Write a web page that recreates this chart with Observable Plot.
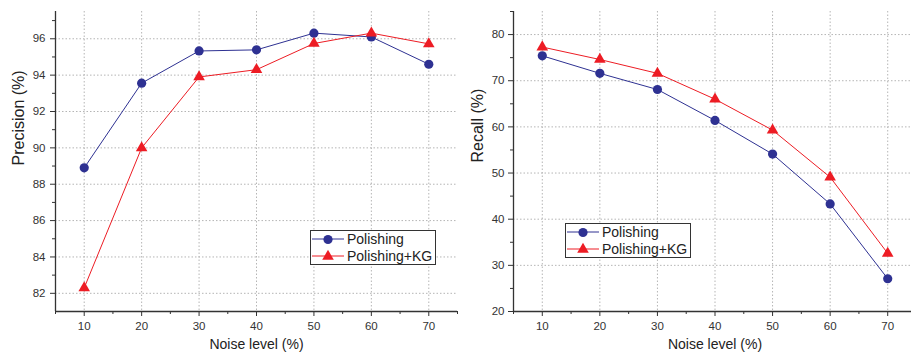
<!DOCTYPE html>
<html><head><meta charset="utf-8">
<script src="https://cdn.jsdelivr.net/npm/d3@7"></script>
<script src="https://cdn.jsdelivr.net/npm/@observablehq/plot@0.6"></script>
<style>
body{margin:0;background:#fff;}
#wrap{position:relative;width:911px;height:356px;overflow:hidden;font-family:"Liberation Sans",Arial,sans-serif;}
.panel{position:absolute;top:0;width:460px;height:356px;}
.panel svg{max-width:none !important;}
.legend{position:absolute;border:1px solid #333;background:#fff;box-sizing:border-box;font-size:14px;color:#222;}
.legend .row{display:flex;align-items:center;height:16.5px;}
.legend svg{display:block;flex:none;}
</style>
</head><body>
<div id="wrap"></div>
<script>
const noise = [10, 20, 30, 40, 50, 60, 70];
const seriesNames = ["Polishing", "Polishing+KG"];
const precisionPolishing = [88.9, 93.56, 95.33, 95.39, 96.31, 96.1, 94.6];
const precisionPolishingKG = [82.3, 90.0, 93.9, 94.3, 95.74, 96.31, 95.72];
const recallPolishing = [75.4, 71.6, 68.1, 61.4, 54.1, 43.3, 27.1];
const recallPolishingKG = [77.3, 74.6, 71.6, 66.0, 59.3, 49.1, 32.6];
const xTicks = [10, 20, 30, 40, 50, 60, 70];
const xMinorTicks = [5, 15, 25, 35, 45, 55, 65, 75];
const precisionTicks = [82, 84, 86, 88, 90, 92, 94, 96];
const precisionMinorTicks = [83, 85, 87, 89, 91, 93, 95, 97];
const recallTicks = [20, 30, 40, 50, 60, 70, 80];
const recallMinorTicks = [25, 35, 45, 55, 65, 75, 85];

const colors = {"Polishing": "#2e3192", "Polishing+KG": "#ed1c24"};
const symbols = {"Polishing": "circle", "Polishing+KG": "triangle"};

function rows(a, b) {
  return noise.flatMap((n, i) => [
    {noise: n, value: a[i], series: seriesNames[0]},
    {noise: n, value: b[i], series: seriesNames[1]}
  ]);
}

function panel({data, yDomain, yTicks, yMinor, yLabel, width, left, marginLeft, marginRight, tickPadding, labelDx, labelDy, legend}) {
  const grid = {stroke: "#b5b5b5", strokeOpacity: 1, strokeDasharray: "1.5,2"};
  const chart = Plot.plot({
    width, height: 356,
    marginTop: 11, marginBottom: 45, marginLeft, marginRight,
    style: {fontFamily: "'Liberation Sans', Arial, sans-serif", fontSize: "11px", color: "#333", background: "transparent", maxWidth: "none"},
    x: {domain: [5, 75], axis: null},
    y: {domain: yDomain, axis: null},
    marks: [
      Plot.gridX(xTicks, grid),
      Plot.gridY(yTicks, grid),
      Plot.axisX(xTicks, {tickSize: 5, tickPadding: 5, stroke: "#333", fill: "#333", fontSize: 11.5, label: null}),
      Plot.axisX(xMinorTicks, {tickSize: 3, tickFormat: () => "", stroke: "#333", label: null}),
      Plot.axisY(yTicks, {tickSize: 5, tickPadding, stroke: "#333", fill: "#333", fontSize: 11.5, label: null}),
      Plot.axisY(yMinor, {tickSize: 3, tickFormat: () => "", stroke: "#333", label: null}),
      Plot.ruleX([5], {stroke: "#333", strokeWidth: 1.3}),
      Plot.ruleY([yDomain[0]], {stroke: "#333", strokeWidth: 1.3}),
      Plot.line(data, {x: "noise", y: "value", z: "series", stroke: d => colors[d.series], strokeWidth: 1}),
      Plot.dot(data.filter(d => d.series === seriesNames[0]), {x: "noise", y: "value", r: 4.6, symbol: "circle", fill: colors[seriesNames[0]], stroke: "none"}),
      Plot.dot(data.filter(d => d.series === seriesNames[1]), {x: "noise", y: "value", r: 4.3, symbol: "triangle", fill: colors[seriesNames[1]], stroke: "none"}),
      Plot.text([yLabel], {frameAnchor: "left", dx: labelDx, dy: labelDy, rotate: -90, fontSize: 16, fill: "#222"}),
      Plot.text(["Noise level (%)"], {frameAnchor: "bottom", dy: 37, fontSize: 14, fill: "#222"})
    ]
  });
  const div = document.createElement("div");
  div.className = "panel";
  div.style.left = left + "px";
  div.appendChild(chart);
  document.getElementById("wrap").appendChild(div);

  const lg = document.createElement("div");
  lg.className = "legend";
  lg.style.left = legend.left + "px";
  lg.style.top = legend.top + "px";
  lg.style.width = legend.width + "px";
  lg.style.height = legend.height + "px";
  for (const name of seriesNames) {
    const row = document.createElement("div");
    row.className = "row";
    const s = d3.create("svg").attr("width", 36).attr("height", 16);
    s.append("line").attr("x1", 1).attr("x2", 33).attr("y1", 8).attr("y2", 8).attr("stroke", colors[name]).attr("stroke-width", 1);
    const sym = symbols[name] === "circle" ? d3.symbolCircle : d3.symbolTriangle;
    const size = symbols[name] === "circle" ? Math.PI * 4.6 * 4.6 : Math.PI * 4.3 * 4.3;
    s.append("path").attr("d", d3.symbol(sym, size)()).attr("transform", "translate(17,8.5)").attr("fill", colors[name]);
    row.appendChild(s.node());
    const t = document.createElement("span");
    t.textContent = name;
    row.appendChild(t);
    lg.appendChild(row);
  }
  document.getElementById("wrap").appendChild(lg);
}

panel({
  data: rows(precisionPolishing, precisionPolishingKG),
  yDomain: [81, 97.5], yTicks: precisionTicks, yMinor: precisionMinorTicks,
  yLabel: "Precision (%)", width: 460, left: 0, marginLeft: 55, marginRight: 3,
  tickPadding: 5, labelDx: -37, labelDy: 4,
  legend: {left: 310, top: 230, width: 126, height: 35}
});
panel({
  data: rows(recallPolishing, recallPolishingKG),
  yDomain: [20, 85], yTicks: recallTicks, yMinor: recallMinorTicks,
  yLabel: "Recall (%)", width: 460, left: 460, marginLeft: 53, marginRight: 4,
  tickPadding: 4, labelDx: -36, labelDy: 1,
  legend: {left: 565, top: 223, width: 126, height: 35}
});
</script>
</body></html>
